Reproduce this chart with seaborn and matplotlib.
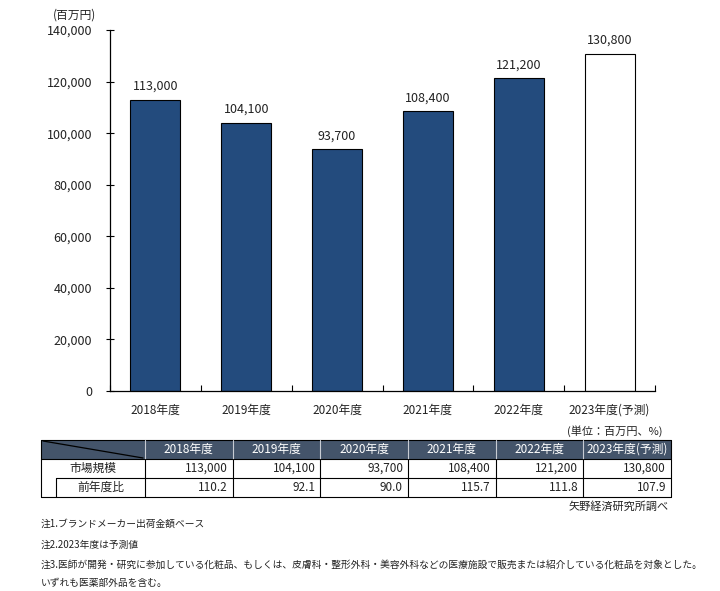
import matplotlib
matplotlib.use('Agg')
import matplotlib.pyplot as plt
import seaborn as sns
import pandas as pd
from matplotlib.patches import Rectangle
from matplotlib.lines import Line2D

# ---- data ----
years = ['2018年度', '2019年度', '2020年度', '2021年度', '2022年度', '2023年度(予測)']
market = [113000, 104100, 93700, 108400, 121200, 130800]
yoy = [110.2, 92.1, 90.0, 115.7, 111.8, 107.9]
yticks = [0, 20000, 40000, 60000, 80000, 100000, 120000, 140000]
row_labels = ['市場規模', '前年度比']
unit_label = '(百万円)'
table_unit = '(単位：百万円、%)'
source = '矢野経済研究所調べ'
notes = [
    '注1.ブランドメーカー出荷金額ベース',
    '注2.2023年度は予測値',
    '注3.医師が開発・研究に参加している化粧品、もしくは、皮膚科・整形外科・美容外科などの医療施設で販売または紹介している化粧品を対象とした。',
    'いずれも医薬部外品を含む。',
]

sns.set_theme(style='white')
plt.rcParams['font.family'] = ['Noto Sans CJK JP', 'DejaVu Sans']

W, H = 720, 591
fig = plt.figure(figsize=(W / 100, H / 100), dpi=100)


def fx(px):
    return px / W


def fy(py):
    return 1 - py / H


ax = fig.add_axes([fx(110), fy(391), (655 - 110) / W, (391 - 30) / H])
df = pd.DataFrame({'year': years, 'value': market})
colors = ['#234B7D'] * 5 + ['white']
sns.barplot(data=df, x='year', y='value', hue='year', palette=colors, legend=False,
            width=0.55, edgecolor='black', linewidth=0.8, saturation=1, ax=ax)

for cont, v in zip(ax.containers, market):
    ax.bar_label(cont, labels=[f'{v:,}'], padding=5, fontsize=9, color='#222222')

ax.set_xlim(-0.5, len(years) - 0.5)
ax.set_ylim(0, 140000)
ax.set_yticks(yticks)
ax.set_yticklabels([f'{v:,}' for v in yticks], fontsize=9, color='#222222')
ax.set_xticks(range(len(years)))
ax.set_xticklabels(years, fontsize=8.5, color='#222222')
ax.set_xticks([i - 0.5 for i in range(len(years) + 1)], minor=True)
ax.set_xlabel('')
ax.set_ylabel('')
for s in ['top', 'right']:
    ax.spines[s].set_visible(False)
for s in ['left', 'bottom']:
    ax.spines[s].set_color('black')
    ax.spines[s].set_linewidth(0.9)
ax.tick_params(axis='x', which='major', bottom=True, length=0, pad=9)
ax.tick_params(axis='x', which='minor', bottom=True, direction='in', length=4,
               width=0.8, color='black')
ax.tick_params(axis='y', which='major', left=True, direction='inout', length=6,
               width=0.8, color='black', pad=10)
ax.set_facecolor('white')

fig.text(fx(75), fy(15), unit_label, ha='center', va='center', fontsize=8.5, color='#222222')

# ---- table ----
x0, x1, xr = 41, 145, 671
xind = 56
ncol = len(years)
cw = (xr - x1) / ncol
edges = [x1 + cw * i for i in range(ncol + 1)]
ys = [440, 459, 478, 497]
tf = fig.transFigure


def line(xa, ya, xb, yb, color='black', lw=0.8):
    fig.add_artist(Line2D([fx(xa), fx(xb)], [fy(ya), fy(yb)], color=color, lw=lw, transform=tf))


fig.add_artist(Rectangle((fx(x0), fy(ys[1])), (xr - x0) / W, (ys[1] - ys[0]) / H,
                         facecolor='#44546A', edgecolor='none', transform=tf))
line(x0, ys[0], xr, ys[0])
line(x0, ys[1], xr, ys[1])
line(xind, ys[2], xr, ys[2])
line(x0, ys[3], xr, ys[3])
line(x0, ys[0], x0, ys[3])
line(xr, ys[0], xr, ys[3])
line(xind, ys[2], xind, ys[3])
for e in edges[:-1]:
    line(e, ys[0], e, ys[1], color='#C8CCD4', lw=0.8)
    line(e, ys[1], e, ys[3])
line(x0 + 2, ys[0] + 1, x1 - 2, ys[1] - 1, color='black', lw=0.9)

for i, yr in enumerate(years):
    cx = (edges[i] + edges[i + 1]) / 2
    fig.text(fx(cx), fy((ys[0] + ys[1]) / 2), yr, ha='center', va='center',
             fontsize=8.5, color='white')
    fig.text(fx(edges[i + 1] - 5), fy((ys[1] + ys[2]) / 2), f'{market[i]:,}',
             ha='right', va='center', fontsize=8.5, color='#222222')
    fig.text(fx(edges[i + 1] - 5), fy((ys[2] + ys[3]) / 2), f'{yoy[i]:.1f}',
             ha='right', va='center', fontsize=8.5, color='#222222')

fig.text(fx((x0 + x1) / 2), fy((ys[1] + ys[2]) / 2), row_labels[0], ha='center',
         va='center', fontsize=8.5, color='#222222')
fig.text(fx((xind + x1) / 2), fy((ys[2] + ys[3]) / 2), row_labels[1], ha='center',
         va='center', fontsize=8.5, color='#222222')

fig.text(fx(663), fy(431), table_unit, ha='right', va='center', fontsize=8, color='#222222')
fig.text(fx(669), fy(507), source, ha='right', va='center', fontsize=8, color='#222222')

for txt, yy in zip(notes, [524, 545, 565, 583]):
    fig.text(fx(41), fy(yy), txt, ha='left', va='center', fontsize=7, color='#222222')

fig.savefig('out.png', dpi=100, facecolor='white')
